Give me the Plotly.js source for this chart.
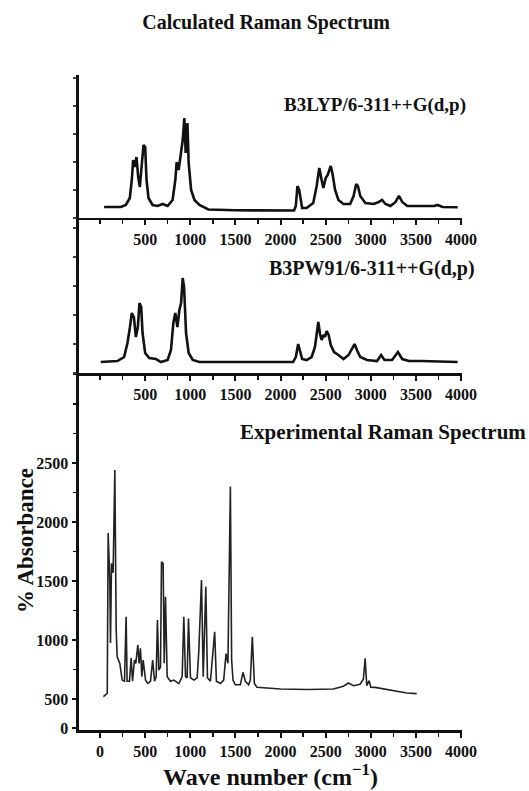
<!DOCTYPE html>
<html>
<head>
<meta charset="utf-8">
<script src="https://cdn.plot.ly/plotly-3.0.1.min.js"></script>
<style>html,body{margin:0;padding:0;background:#fff;}#chart{width:529px;height:791px;}</style>
</head>
<body>
<div id="chart"></div>
<script>
// ---- Data ----
const b3lypWave = [45,230,286,330,352,367,386,404,423,441,464,482,500,515,537,582,638,693,749,804,834,849,871,898,916,934,949,968,982,1009,1046,1101,1176,1200,1500,2000,2150,2169,2187,2206,2221,2239,2288,2362,2400,2429,2455,2474,2500,2522,2556,2578,2604,2641,2697,2771,2809,2838,2857,2883,2939,3032,3088,3125,3162,3218,3274,3311,3348,3404,3553,3701,3739,3794,3962];
const b3lypInt  = [0.11,0.11,0.13,0.20,0.38,0.58,0.51,0.61,0.41,0.31,0.55,0.73,0.71,0.38,0.20,0.13,0.12,0.14,0.12,0.18,0.38,0.56,0.48,0.66,0.78,1.00,0.65,0.95,0.55,0.28,0.18,0.13,0.10,0.085,0.077,0.073,0.075,0.12,0.32,0.28,0.18,0.10,0.10,0.15,0.32,0.50,0.38,0.30,0.40,0.43,0.52,0.43,0.28,0.18,0.14,0.14,0.22,0.34,0.32,0.22,0.15,0.14,0.16,0.18,0.14,0.12,0.16,0.22,0.16,0.12,0.12,0.12,0.13,0.11,0.107];

const b3pw91Wave = [8,192,267,304,330,352,375,397,419,437,456,471,500,545,620,675,749,786,812,834,857,879,898,916,931,942,953,982,1027,1101,1500,2000,2139,2169,2195,2213,2239,2288,2344,2381,2400,2418,2437,2455,2474,2492,2511,2533,2556,2593,2641,2697,2753,2790,2820,2846,2883,2957,3069,3114,3151,3236,3274,3300,3348,3422,3553,3962];
const b3pw91Int  = [0.11,0.12,0.16,0.30,0.45,0.60,0.56,0.36,0.46,0.70,0.66,0.40,0.20,0.15,0.14,0.11,0.13,0.23,0.50,0.60,0.46,0.63,0.70,0.95,0.86,0.63,0.40,0.20,0.13,0.11,0.11,0.11,0.11,0.16,0.29,0.23,0.14,0.13,0.16,0.26,0.39,0.51,0.39,0.33,0.38,0.36,0.42,0.38,0.28,0.21,0.18,0.14,0.18,0.24,0.29,0.23,0.16,0.13,0.12,0.18,0.13,0.13,0.18,0.21,0.14,0.12,0.12,0.11];

const expWave = [37,80,90,108,116,127,145,164,179,190,219,245,271,289,300,326,345,360,382,396,419,433,448,463,478,504,530,559,583,604,622,636,651,670,681,699,711,725,744,780,818,873,910,928,947,965,980,1002,1040,1076,1094,1124,1143,1172,1190,1223,1270,1289,1333,1370,1396,1417,1444,1458,1473,1499,1554,1584,1610,1646,1665,1687,1710,1738,2000,2300,2584,2696,2751,2807,2881,2918,2937,2955,2981,3000,3047,3103,3177,3250,3324,3398,3508];
const expAbs  = [520,548,1907,1508,975,1650,1570,2440,1085,858,802,660,650,1197,650,650,847,650,830,802,958,802,930,689,830,660,632,650,830,650,689,1170,745,770,1663,1650,802,1367,689,650,660,630,689,1197,689,680,1183,680,660,680,900,1508,689,1452,680,650,1070,650,632,660,885,802,2300,830,660,620,620,725,650,620,660,1028,632,600,585,580,585,608,635,612,625,670,845,612,655,600,598,590,582,570,559,550,545];

const topTicks = [500,1000,1500,2000,2500,3000,3500,4000];
const topTickText = ["500","1000","1500","2000","2500","3000","3500","4000"];
const botTicks = [0,500,1000,1500,2000,2500,3000,3500,4000];
const botTickText = ["0","500","1000","1500","2000","2500","3000","3500","4000"];
const absTicks = [254,500,1000,1500,2000,2500];
const absTickText = ["0","500","1000","1500","2000","2500"];

// ---- Styling ----
const SERIF = "Liberation Serif, Times New Roman, serif";
const tickFont = {family: SERIF, size: 16, color: "#111", weight: "bold"};
const XR = [-233, 4010];

function xax(anchor, vals, text) {
  return {
    anchor: anchor, domain: [0, 1], range: XR, showgrid: false, zeroline: false,
    showline: true, linecolor: "#111", linewidth: 2.5,
    tickmode: "array", tickvals: vals, ticktext: text,
    ticks: "outside", ticklen: 5, tickwidth: 2, tickcolor: "#111",
    minor: {tickmode: "linear", tick0: 0, dtick: 250, ticks: "outside", ticklen: 4, tickwidth: 1.5, tickcolor: "#111"},
    tickfont: tickFont, fixedrange: true
  };
}

const traces = [
  {x: b3lypWave, y: b3lypInt, xaxis: "x", yaxis: "y", mode: "lines", line: {color: "#111", width: 2.6}, hoverinfo: "skip"},
  {x: b3pw91Wave, y: b3pw91Int, xaxis: "x2", yaxis: "y2", mode: "lines", line: {color: "#111", width: 2.6}, hoverinfo: "skip"},
  {x: expWave, y: expAbs, xaxis: "x3", yaxis: "y3", mode: "lines", line: {color: "#222", width: 1.6}, hoverinfo: "skip"}
];

const labelFont = (s) => ({family: SERIF, size: s, color: "#111", weight: "bold"});

const layout = {
  width: 529, height: 791,
  margin: {l: 79, r: 67, t: 75, b: 61},
  paper_bgcolor: "#fff", plot_bgcolor: "#fff",
  showlegend: false,
  title: {text: "Calculated Raman Spectrum", x: 0.503, xanchor: "center", y: 0.972, yanchor: "middle",
          font: labelFont(20)},
  xaxis: xax("y", topTicks, topTickText),
  xaxis2: xax("y2", topTicks, topTickText),
  xaxis3: Object.assign(xax("y3", botTicks, botTickText), {
    title: {text: "Wave number (cm<sup>\u22121</sup>)", standoff: 5, font: labelFont(24)}
  }),
  yaxis: {domain: [0.7817, 1], anchor: "x", range: [0, 1.43], showgrid: false, zeroline: false,
          showline: true, linecolor: "#111", linewidth: 3, ticks: "outside", ticklen: 3, tickwidth: 1.5,
          tickmode: "linear", tick0: 0, dtick: 0.28, showticklabels: false, fixedrange: true},
  yaxis2: {domain: [0.545, 0.7817], anchor: "x2", range: [0, 1.55], showgrid: false, zeroline: false,
          showline: true, linecolor: "#111", linewidth: 3, ticks: "outside", ticklen: 3, tickwidth: 1.5,
          tickmode: "linear", tick0: 0, dtick: 0.29, showticklabels: false, fixedrange: true},
  yaxis3: {domain: [0, 0.545], anchor: "x3", range: [237, 3263], showgrid: false, zeroline: false,
          showline: true, linecolor: "#111", linewidth: 3.5,
          tickmode: "array", tickvals: absTicks, ticktext: absTickText,
          ticks: "outside", ticklen: 4, tickwidth: 2, tickcolor: "#111",
          minor: {tickmode: "linear", tick0: 0, dtick: 250, ticks: "outside", ticklen: 3, tickwidth: 1.5, tickcolor: "#111"},
          tickfont: tickFont, ticklabelstandoff: 0, fixedrange: true},
  annotations: [
    {text: "B3LYP/6-311++G(d,p)", xref: "paper", yref: "paper", x: 1.016, y: 0.954, xanchor: "right", yanchor: "middle",
     showarrow: false, font: labelFont(19)},
    {text: "B3PW91/6-311++G(d,p)", xref: "paper", yref: "paper", x: 1.04, y: 0.705, xanchor: "right", yanchor: "middle",
     showarrow: false, font: labelFont(20)},
    {text: "Experimental Raman Spectrum", xref: "paper", yref: "paper", x: 1.172, y: 0.455, xanchor: "right", yanchor: "middle",
     showarrow: false, font: labelFont(21)},
    {text: "% Absorbance", xref: "paper", yref: "paper", x: -0.141, y: 0.29, xanchor: "center", yanchor: "middle",
     textangle: -90, showarrow: false, font: labelFont(23)}
  ]
};

Plotly.newPlot("chart", traces, layout, {staticPlot: true, displayModeBar: false});
</script>
</body>
</html>
